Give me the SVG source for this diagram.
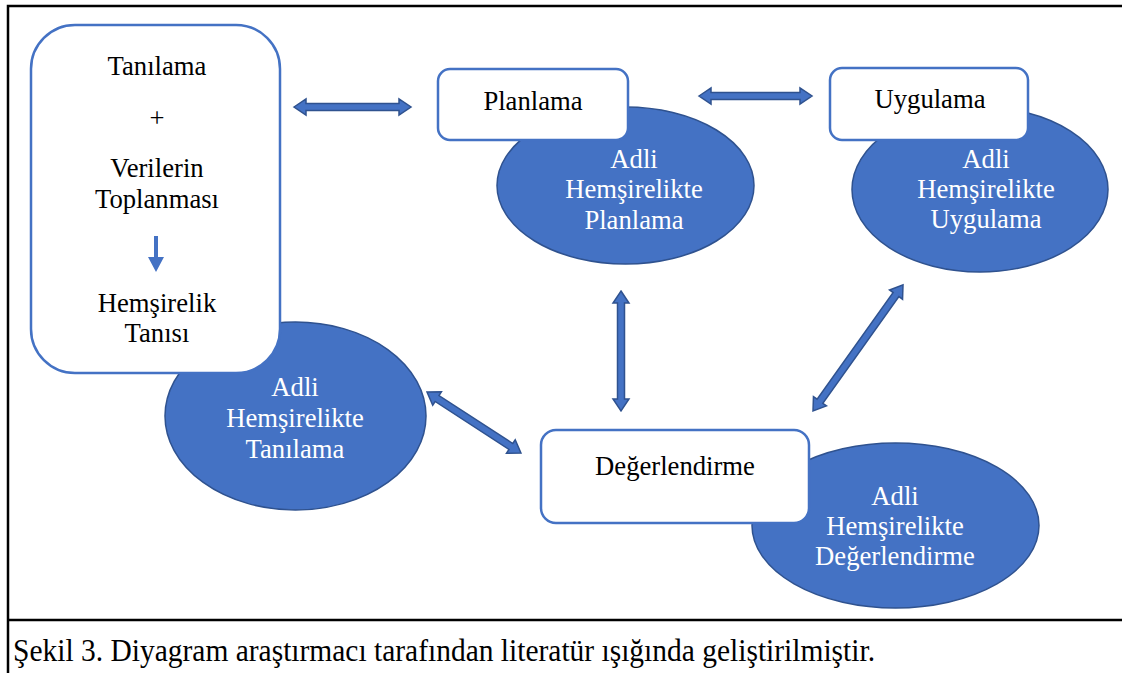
<svg xmlns="http://www.w3.org/2000/svg" width="1122" height="673" viewBox="0 0 1122 673">
<style>
.ell{fill:#4472C4;stroke:#2F528F;stroke-width:1.5}
.box{fill:#fff;stroke:#4472C4;stroke-width:2.5}
.arr{fill:#4472C4;stroke:#2F528F;stroke-width:1.5;stroke-linejoin:miter}
.t{font-family:'Liberation Serif','Times New Roman',Times,serif;font-size:26.67px;text-anchor:middle;fill:#000}
.w{fill:#fff}
.cap{font-family:'Liberation Serif','Times New Roman',Times,serif;font-size:32px;fill:#000}
.frame{stroke:#000;stroke-width:2.5;fill:none}
</style>
<rect width="1122" height="673" fill="#fff"/>
<g id="frame">
<path class="frame" d="M1122,6 H8 V673"/>
<path class="frame" d="M8,620 H1122"/>
</g>
<g id="node-tanilama">
<ellipse class="ell" cx="295.5" cy="416" rx="130.5" ry="94"/>
<rect class="box" x="31" y="25" width="249" height="348" rx="44"/>
<text class="t" x="157" y="75">Tanılama</text>
<text class="t" x="157" y="127">+</text>
<text class="t" x="157" y="177">Verilerin</text>
<text class="t" x="157" y="208">Toplanması</text>
<path d="M154,236 H158 V257 H164 L156,272 L148,257 H154 Z" fill="#4472C4"/>
<text class="t" x="157" y="312">Hemşirelik</text>
<text class="t" x="157" y="342">Tanısı</text>
<text class="t w" x="295" y="396">Adli</text>
<text class="t w" x="295" y="427">Hemşirelikte</text>
<text class="t w" x="295" y="458">Tanılama</text>
</g>
<g id="node-planlama">
<ellipse class="ell" cx="625.5" cy="185.5" rx="128.5" ry="78.5"/>
<rect class="box" x="438" y="69" width="190" height="71" rx="12"/>
<text class="t" x="533" y="110">Planlama</text>
<text class="t w" x="634" y="168">Adli</text>
<text class="t w" x="634" y="198">Hemşirelikte</text>
<text class="t w" x="634" y="229">Planlama</text>
</g>
<g id="node-uygulama">
<ellipse class="ell" cx="980" cy="189.5" rx="128" ry="82.5"/>
<rect class="box" x="830" y="68" width="198" height="72" rx="12"/>
<text class="t" x="930" y="108">Uygulama</text>
<text class="t w" x="986" y="168">Adli</text>
<text class="t w" x="986" y="198">Hemşirelikte</text>
<text class="t w" x="986" y="228">Uygulama</text>
</g>
<g id="node-degerlendirme">
<ellipse class="ell" cx="895.5" cy="525.5" rx="143.5" ry="82.5"/>
<rect class="box" x="541" y="430" width="268" height="93" rx="15"/>
<text class="t" x="675" y="475">Değerlendirme</text>
<text class="t w" x="895" y="505">Adli</text>
<text class="t w" x="895" y="535">Hemşirelikte</text>
<text class="t w" x="895" y="565">Değerlendirme</text>
</g>
<g id="connectors">
<path class="arr" transform="translate(294,107)" d="M0,0 L12,-8 L12,-3.5 L105,-3.5 L105,-8 L117,0 L105,8 L105,3.5 L12,3.5 L12,8 Z"/>
<path class="arr" transform="translate(699,96)" d="M0,0 L12,-8 L12,-3.5 L101,-3.5 L101,-8 L113,0 L101,8 L101,3.5 L12,3.5 L12,8 Z"/>
<path class="arr" transform="translate(621,291) rotate(90)" d="M0,0 L12,-8 L12,-3.5 L108,-3.5 L108,-8 L120,0 L108,8 L108,3.5 L12,3.5 L12,8 Z"/>
<path class="arr" transform="translate(427,392) rotate(33)" d="M0,0 L12,-8 L12,-3.5 L100,-3.5 L100,-8 L112,0 L100,8 L100,3.5 L12,3.5 L12,8 Z"/>
<path class="arr" transform="translate(813,411) rotate(-54.5)" d="M0,0 L12,-8 L12,-3.5 L143,-3.5 L143,-8 L155,0 L143,8 L143,3.5 L12,3.5 L12,8 Z"/>
</g>
<text id="caption" class="cap" x="13" y="661" textLength="862" lengthAdjust="spacingAndGlyphs">Şekil 3. Diyagram araştırmacı tarafından literatür ışığında geliştirilmiştir.</text>
</svg>
